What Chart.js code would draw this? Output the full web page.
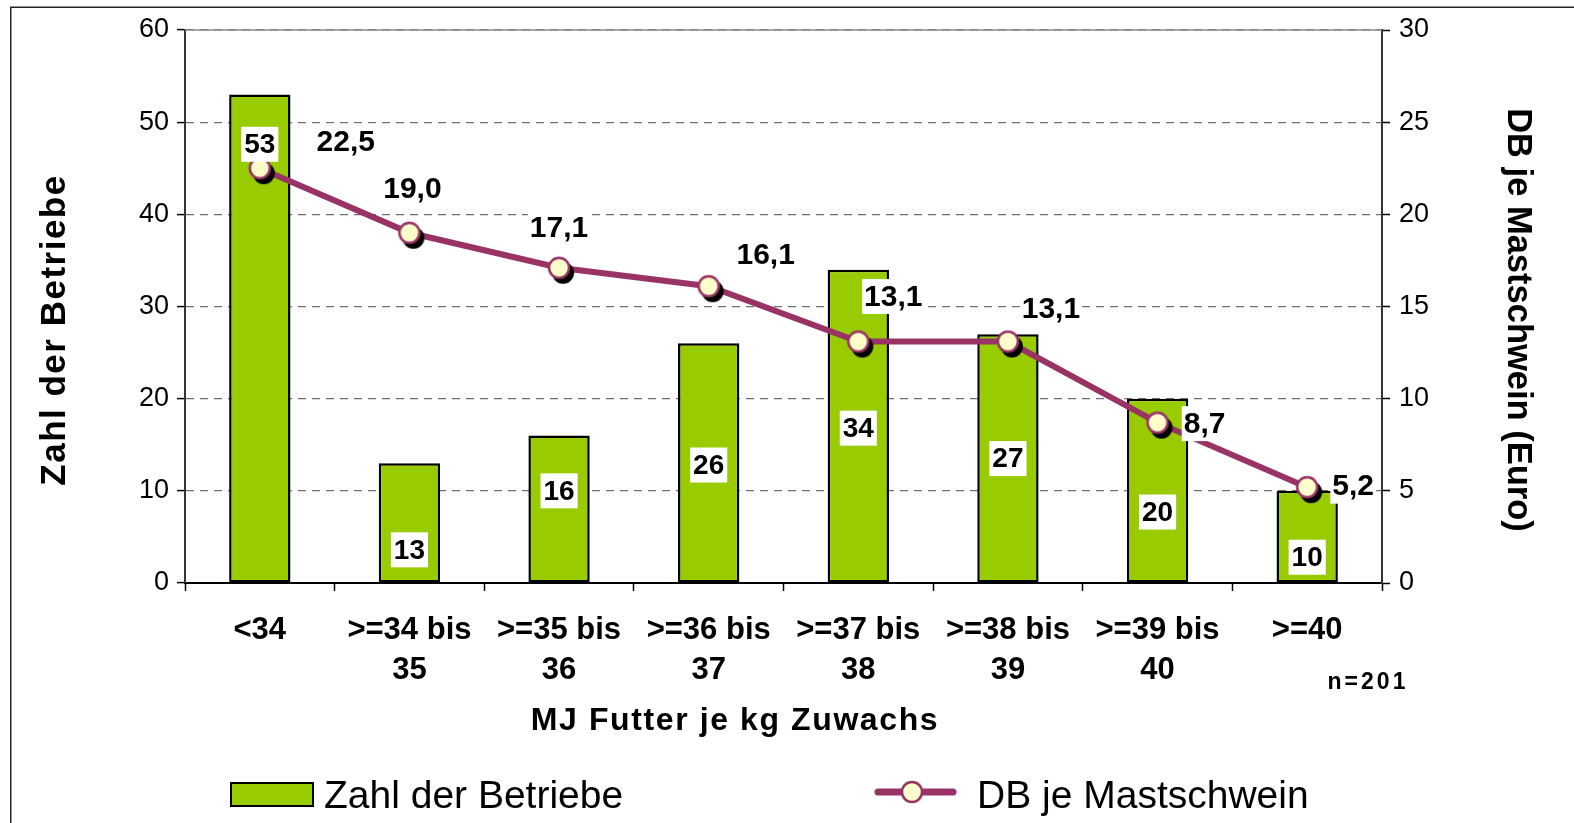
<!DOCTYPE html>
<html>
<head>
<meta charset="utf-8">
<script src="https://cdn.jsdelivr.net/npm/chart.js@4.4.1/dist/chart.umd.min.js"></script>
<style>
  html, body { margin: 0; padding: 0; background: #fff; }
  canvas { display: block; }
</style>
</head>
<body>
<canvas id="myChart" width="1574" height="823"></canvas>
<script>
"use strict";

// chart data
const categories = [['<34'], ['>=34 bis', '35'], ['>=35 bis', '36'], ['>=36 bis', '37'],
                    ['>=37 bis', '38'], ['>=38 bis', '39'], ['>=39 bis', '40'], ['>=40']];
const betriebe   = [53, 13, 16, 26, 34, 27, 20, 10];
const dbJeSchwein = [22.5, 19.0, 17.1, 16.1, 13.1, 13.1, 8.7, 5.2];
const leftTicks  = { min: 0, max: 60, step: 10 };
const rightTicks = { min: 0, max: 30, step: 5 };

// label placement (the labels were moved by hand in the original)
const barLabelAt  = [47.6, 3.6, 10.0, 12.8, 16.8, 13.5, 7.7, 2.8];   // in left axis units
const lineLabelDx = [86, 3, 0, 57, 35, 43, 47, 46];
const lineLabelDy = [-27, -44, -40, -31, -45, -33, 1, -1];

const FONT   = "'Liberation Sans', Arial, sans-serif";
const GREEN  = '#99CC00';
const PLUM   = '#993366';
const CREAM  = '#FFFFCC';

function germanNumber(v) {
    return v.toFixed(1).replace('.', ',');
}

// marker with its dropped shadow, used as point style
function makeMarker() {
    const c = document.createElement('canvas');
    c.width = 50;
    c.height = 50;
    const g = c.getContext('2d');
    g.fillStyle = '#000';
    g.beginPath();
    g.arc(29, 30, 11, 0, Math.PI * 2);
    g.fill();
    g.fillStyle = CREAM;
    g.strokeStyle = PLUM;
    g.lineWidth = 2.5;
    g.beginPath();
    g.arc(25, 25, 10, 0, Math.PI * 2);
    g.fill();
    g.stroke();
    return c;
}

function boxLabel(ctx, text, x, y, font, padX, boxH) {
    ctx.font = font;
    const w = ctx.measureText(text).width;
    ctx.fillStyle = '#fff';
    ctx.fillRect(x - w / 2 - padX, y - boxH / 2, w + padX * 2, boxH);
    ctx.fillStyle = '#000';
    ctx.textAlign = 'center';
    ctx.textBaseline = 'middle';
    ctx.fillText(text, x, y + 1);
}

function placeText(ctx, text, x, y, angle, font, spacing) {
    ctx.save();
    ctx.translate(x, y);
    ctx.rotate(angle);
    ctx.font = font;
    ctx.letterSpacing = spacing + 'px';
    ctx.fillStyle = '#000';
    ctx.textAlign = 'center';
    ctx.textBaseline = 'middle';
    ctx.fillText(text, 0, 0);
    ctx.restore();
}

const decor = {
    id: 'decor',
    beforeDraw(chart) {
        const ctx = chart.ctx;
        ctx.save();
        ctx.fillStyle = '#fff';
        ctx.fillRect(0, 0, chart.width, chart.height);
        ctx.strokeStyle = '#222';
        ctx.lineWidth = 1.5;
        ctx.strokeRect(10.75, 7.25, chart.width + 20, chart.height + 20);
        ctx.restore();
    },
    beforeDatasetsDraw(chart) {
        // solid top edge of the plot area
        const a = chart.chartArea;
        const ctx = chart.ctx;
        ctx.save();
        ctx.strokeStyle = '#888';
        ctx.lineWidth = 1.5;
        ctx.beginPath();
        ctx.moveTo(a.left, a.top);
        ctx.lineTo(a.right, a.top);
        ctx.stroke();
        ctx.restore();
    },
    afterDatasetsDraw(chart) {
        const ctx = chart.ctx;
        const ys = chart.scales.y;
        ctx.save();
        chart.getDatasetMeta(0).data.forEach(function (bar, i) {
            boxLabel(ctx, String(betriebe[i]), bar.x, ys.getPixelForValue(barLabelAt[i]),
                     'bold 28px ' + FONT, 3, 35);
        });
        chart.getDatasetMeta(1).data.forEach(function (pt, i) {
            boxLabel(ctx, germanNumber(dbJeSchwein[i]), pt.x + lineLabelDx[i], pt.y + lineLabelDy[i],
                     'bold 30px ' + FONT, 2, 35);
        });
        ctx.restore();
    },
    afterDraw(chart) {
        const ctx = chart.ctx;
        ctx.save();

        // axis titles
        placeText(ctx, 'Zahl der Betriebe', 55, 330, -Math.PI / 2, 'bold 35px ' + FONT, 1.5);
        placeText(ctx, 'DB je Mastschwein (Euro)', 1518, 320, Math.PI / 2, 'bold 34.5px ' + FONT, 0);
        placeText(ctx, 'MJ Futter je kg Zuwachs', 735, 721, 0, 'bold 32px ' + FONT, 1.6);
        placeText(ctx, 'n=201', 1368, 683, 0, 'bold 23px ' + FONT, 3);

        // legend
        ctx.letterSpacing = '0px';
        ctx.fillStyle = GREEN;
        ctx.fillRect(231, 783, 82, 23);
        ctx.strokeStyle = '#000';
        ctx.lineWidth = 2;
        ctx.strokeRect(231, 783, 82, 23);
        ctx.font = '39px ' + FONT;
        ctx.fillStyle = '#000';
        ctx.textAlign = 'left';
        ctx.textBaseline = 'alphabetic';
        ctx.fillText('Zahl der Betriebe', 324, 808);

        ctx.strokeStyle = PLUM;
        ctx.lineWidth = 7;
        ctx.lineCap = 'round';
        ctx.beginPath();
        ctx.moveTo(878, 792);
        ctx.lineTo(953, 792);
        ctx.stroke();
        ctx.fillStyle = CREAM;
        ctx.lineWidth = 2.5;
        ctx.beginPath();
        ctx.arc(912, 792, 10, 0, Math.PI * 2);
        ctx.fill();
        ctx.stroke();
        ctx.fillStyle = '#000';
        ctx.fillText('DB je Mastschwein', 977, 808);

        ctx.restore();
    }
};

const ctx = document.getElementById('myChart').getContext('2d');

const myChart = new Chart(ctx, {
    type: 'bar',
    data: {
        labels: categories,
        datasets: [{
            label: 'Zahl der Betriebe',
            data: betriebe,
            yAxisID: 'y',
            backgroundColor: GREEN,
            borderColor: '#000',
            borderWidth: 2.5,
            borderSkipped: false,
            categoryPercentage: 1,
            barPercentage: 0.41,
            order: 1
        }, {
            type: 'line',
            label: 'DB je Mastschwein',
            data: dbJeSchwein,
            yAxisID: 'y1',
            borderColor: PLUM,
            borderWidth: 6,
            tension: 0,
            fill: false,
            pointStyle: makeMarker(),
            pointRadius: 10,
            order: 0
        }]
    },
    options: {
        responsive: false,
        devicePixelRatio: 1,
        animation: false,
        events: [],
        layout: { padding: { top: 30, left: 0, right: 0, bottom: 0 } },
        plugins: {
            legend: { display: false },
            tooltip: { enabled: false }
        },
        scales: {
            x: {
                grid: { drawOnChartArea: false, offset: true, tickLength: 8, tickColor: '#000', tickWidth: 1.5 },
                border: { color: '#000', width: 2 },
                ticks: {
                    color: '#000',
                    font: { family: FONT, size: 31, weight: 'bold', lineHeight: 1.27 },
                    padding: 20,
                    maxRotation: 0,
                    autoSkip: false
                },
                afterFit(scale) { scale.height = 240; }
            },
            y: {
                position: 'left',
                min: leftTicks.min,
                max: leftTicks.max,
                ticks: { stepSize: leftTicks.step, color: '#000', font: { family: FONT, size: 27 }, padding: 8 },
                grid: { color: '#707070', lineWidth: 1.2, tickLength: 8, tickColor: '#000', tickWidth: 1.5 },
                border: { color: '#333', width: 2, dash: [8, 6] },
                afterFit(scale) { scale.width = 185; }
            },
            y1: {
                position: 'right',
                min: rightTicks.min,
                max: rightTicks.max,
                ticks: { stepSize: rightTicks.step, color: '#000', font: { family: FONT, size: 27 }, padding: 9 },
                grid: { drawOnChartArea: false, tickLength: 8, tickColor: '#000', tickWidth: 1.5 },
                border: { color: '#333', width: 2 },
                afterFit(scale) { scale.width = 192; }
            }
        }
    },
    plugins: [decor]
});
</script>
</body>
</html>
